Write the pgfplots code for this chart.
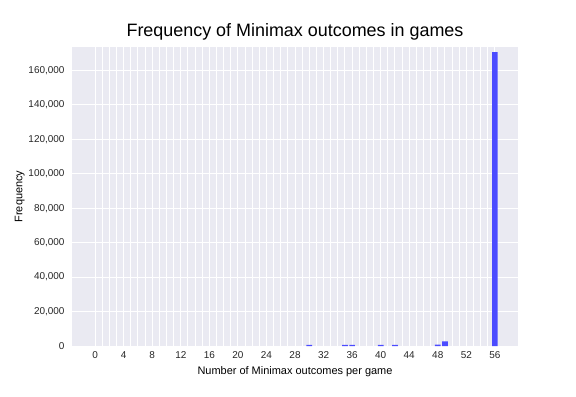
\documentclass[border=0pt]{standalone}
\usepackage{pgfplots}
\pgfplotsset{compat=1.18}
\usepackage{fontspec}
\setmainfont{Liberation Sans}
\definecolor{bgc}{HTML}{EAEAF2}
\definecolor{barc}{HTML}{4B4BFF}
\begin{document}
\begin{tikzpicture}[x=1bp,y=1bp]
\path[use as bounding box] (0,0) rectangle (576,396);
\begin{axis}[at={(72bp,50bp)}, anchor=south west, scale only axis,
  width=446bp, height=299bp,
  xmin=-3.24, xmax=59.24, ymin=0, ymax=173600,
  axis background/.style={fill=bgc},
  axis line style={draw=none},
  xtick={0,4,...,56}, minor xtick={0,...,56},
  xticklabels={0,4,8,12,16,20,24,28,32,36,40,44,48,52,56},
  ytick={0,20000,40000,60000,80000,100000,120000,140000,160000},
  yticklabels={0,{20,000},{40,000},{60,000},{80,000},{100,000},{120,000},{140,000},{160,000}},
  xmajorgrids, xminorgrids, ymajorgrids,
  major grid style={white, line width=1bp},
  minor grid style={white, line width=1bp},
  major tick length=0, minor tick length=0,
  scaled y ticks=false,
  ticklabel style={font=\fontsize{10}{12}\selectfont, text=black!85},
  xticklabel style={yshift=-2bp},
  yticklabel style={xshift=-4bp},
  title={Frequency of Minimax outcomes in games},
  title style={font=\fontsize{18}{21}\selectfont, at={(0.5,1)}, anchor=base, yshift=5bp},
  xlabel={Number of Minimax outcomes per game},
  ylabel={Frequency},
  xlabel style={yshift=-1bp},
  ylabel style={yshift=-3bp},
  label style={font=\fontsize{11}{13}\selectfont},
]
\addplot[ybar, bar width=0.8, fill=barc, draw=none] coordinates {
(30,650) (35,700) (36,700) (40,650) (42,650) (48,750) (49,2700) (56,170600)
};
\end{axis}
\end{tikzpicture}
\end{document}
